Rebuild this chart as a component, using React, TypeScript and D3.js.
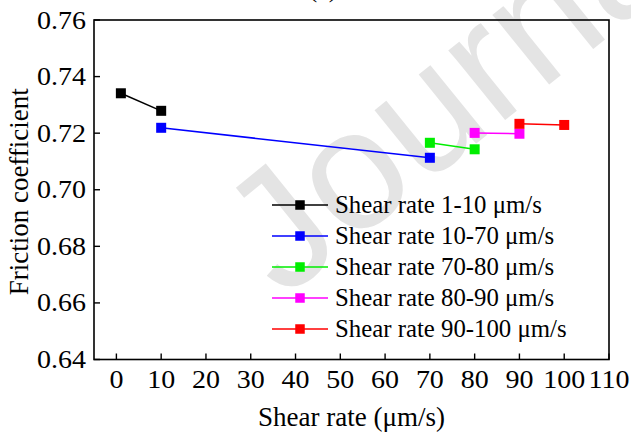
import React from "react";
import * as d3 from "d3";

const seriesNames = [
  "Shear rate 1-10 μm/s",
  "Shear rate 10-70 μm/s",
  "Shear rate 70-80 μm/s",
  "Shear rate 80-90 μm/s",
  "Shear rate 90-100 μm/s",
];
const seriesColors = ["#000000", "#0000ff", "#00ee00", "#ff00ff", "#ff0000"];
const seriesX = [
  [1, 10],
  [10, 70],
  [70, 80],
  [80, 90],
  [90, 100],
];
const seriesY = [
  [0.7341, 0.7279],
  [0.7219, 0.7113],
  [0.7166, 0.7143],
  [0.7201, 0.7198],
  [0.7233, 0.7229],
];
const xTicks = [0, 10, 20, 30, 40, 50, 60, 70, 80, 90, 100, 110];
const yTicks = [0.64, 0.66, 0.68, 0.7, 0.72, 0.74, 0.76];

const W = 631;
const H = 435;
const L = 94, R = 609, T = 20, B = 359.5;
const SERIF = "Liberation Serif, Times New Roman, serif";
const SANS = "Liberation Sans, Arial, sans-serif";

export default function App() {
  const x = d3.scaleLinear().domain([-5, 110]).range([L, R]);
  const y = d3.scaleLinear().domain([0.64, 0.76]).range([B, T]);
  const line = d3
    .line<[number, number]>()
    .x((d) => x(d[0]))
    .y((d) => y(d[1]));
  const ms = 10;
  const tf = { fontFamily: SERIF };
  return (
    <svg
      width={W}
      height={H}
      style={{ position: "absolute", left: 0, top: 0, background: "#fff" }}
    >
      <rect x={0} y={0} width={W} height={H} fill="#fff" />
      {/* watermark */}
      <text
        transform="translate(283,300) rotate(-39)"
        style={{ fontFamily: SANS }}
        fontSize={170}
        fill="#e4e4e4"
      >
        Journal
      </text>
      <text x={323} y={-3} style={tf} fontSize={26} textAnchor="middle" fill="#000">
        (a)
      </text>
      {/* frame */}
      <rect x={L} y={T} width={R - L} height={B - T} fill="none" stroke="#000" strokeWidth={1.6} />
      {/* y ticks */}
      {yTicks.map((t) => (
        <g key={"y" + t}>
          <line x1={L} x2={L + 6} y1={y(t)} y2={y(t)} stroke="#000" strokeWidth={1.4} />
          <text
            transform={`translate(${L - 8},${y(t) + 8.5}) scale(1.12,1)`}
            textAnchor="end"
            style={tf}
            fontSize={25}
            fill="#000"
          >
            {t.toFixed(2)}
          </text>
        </g>
      ))}
      {/* x ticks */}
      {xTicks.map((t) => (
        <g key={"x" + t}>
          <line x1={x(t)} x2={x(t)} y1={B} y2={B - 6} stroke="#000" strokeWidth={1.4} />
          <text
            transform={`translate(${x(t)},${B + 28}) scale(1.12,1)`}
            textAnchor="middle"
            style={tf}
            fontSize={25}
            fill="#000"
          >
            {t}
          </text>
        </g>
      ))}
      {/* axis titles */}
      <text x={(L + R) / 2} y={426} textAnchor="middle" style={tf} fontSize={27} fill="#000">
        Shear rate (μm/s)
      </text>
      <text
        transform={`translate(28,${(T + B) / 2 + 2}) rotate(-90)`}
        textAnchor="middle"
        style={tf}
        fontSize={27}
        fill="#000"
      >
        Friction coefficient
      </text>
      {/* series */}
      {seriesNames.map((name, i) => {
        const pts: [number, number][] = seriesX[i].map((xv, j) => [xv, seriesY[i][j]]);
        return (
          <g key={name}>
            <path d={line(pts) || ""} fill="none" stroke={seriesColors[i]} strokeWidth={1.5} />
            {pts.map((p, j) => (
              <rect
                key={j}
                x={x(p[0]) - ms / 2}
                y={y(p[1]) - ms / 2}
                width={ms}
                height={ms}
                fill={seriesColors[i]}
              />
            ))}
          </g>
        );
      })}
      {/* legend */}
      {seriesNames.map((name, i) => {
        const cy = 205 + i * 31;
        return (
          <g key={"lg" + name}>
            <line x1={272} x2={328} y1={cy} y2={cy} stroke={seriesColors[i]} strokeWidth={1.5} />
            <rect x={300 - 4.75} y={cy - 4.75} width={9.5} height={9.5} fill={seriesColors[i]} />
            <text x={335} y={cy + 8} style={tf} fontSize={24.8} fill="#000">
              {name}
            </text>
          </g>
        );
      })}
    </svg>
  );
}
